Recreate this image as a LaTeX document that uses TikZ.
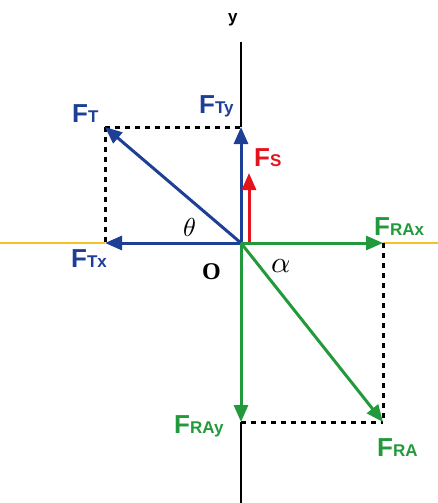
\documentclass[tikz,border=0pt]{standalone}
\usepackage{fontspec}
\usepackage{unicode-math}
\setmainfont{Liberation Sans}
\setmathfont{Latin Modern Math}
\newfontfamily\serifb{Liberation Serif}
\usetikzlibrary{arrows.meta}
\definecolor{vblue}{HTML}{1E3F96}
\definecolor{vgreen}{HTML}{229A3C}
\definecolor{vred}{HTML}{E5141C}
\definecolor{vyellow}{HTML}{F4C12C}
\newcommand\flab[1]{{\bfseries\fontsize{26}{26}\selectfont F\fontsize{17}{17}\selectfont #1}}
\begin{document}
\begin{tikzpicture}[x=1pt,y=-1pt,
  vec/.style={line width=3pt,-{Triangle[length=17pt,width=14pt]}},
  comp/.style={black,line width=3pt,dash pattern=on 5pt off 5pt},
  lab/.style={inner sep=0pt,anchor=base west},
  axis/.style={line width=2.8pt}]
\useasboundingbox (0,0) rectangle (438,503);
\coordinate (O) at (241,243);
\coordinate (T) at (105,127);
\coordinate (Ty) at (241,127);
\coordinate (Tx) at (105,243);
\coordinate (S0) at (249,243);
\coordinate (S) at (249,173);
\coordinate (RAx) at (383,243);
\coordinate (RA) at (383,422);
\coordinate (RAy) at (241,422);
\coordinate (ytop) at (241,42);
\coordinate (ybot) at (241,503);
\coordinate (xl) at (0,243);
\coordinate (xr) at (438,243);
% axes
\draw[axis,vyellow] (xl) -- (Tx);
\draw[axis,vyellow] (RAx) -- (xr);
\draw[axis,black] (ytop) -- (Ty);
\draw[axis,black] (RAy) -- (ybot);
% dashed components
\draw[comp] (T) -- (Ty);
\draw[comp] (T) -- (Tx);
\draw[comp] (RAx) -- (RA);
\draw[comp] (RAy) -- (RA);
% vectors
\draw[vec,vblue] (O) -- (T);
\draw[vec,vblue] (O) -- (Ty);
\draw[vec,vblue] (O) -- (Tx);
\draw[vec,vred] (S0) -- (S);
\draw[vec,vgreen] (O) -- (RAx);
\draw[vec,vgreen] (O) -- (RA);
\draw[vec,vgreen] (O) -- (RAy);
% labels
\node[lab,vblue] (lT) at (72,122) {\flab{T}};
\node[lab,vblue] (lTy) at (199,113) {\flab{Ty}};
\node[lab,vblue] (lTx) at (71,267) {\flab{Tx}};
\node[lab,vred] (lS) at (254,166) {\flab{S}};
\node[lab,vgreen] (lRAx) at (374,235) {\flab{RAx}};
\node[lab,vgreen] (lRAy) at (174,433) {\flab{RAy}};
\node[lab,vgreen] (lRA) at (377,456) {\flab{RA}};
\node[lab] (ly) at (228,23) {\bfseries\fontsize{17}{17}\selectfont y};
\node[lab] (lO) at (202,279) {\serifb\bfseries\fontsize{24}{24}\selectfont O};
\node[inner sep=0pt] (lth) at (190,227) {\fontsize{26}{26}\selectfont$\theta$};
\node[inner sep=0pt] (lal) at (281,266) {\fontsize{30}{30}\selectfont$\alpha$};
\end{tikzpicture}
\end{document}
